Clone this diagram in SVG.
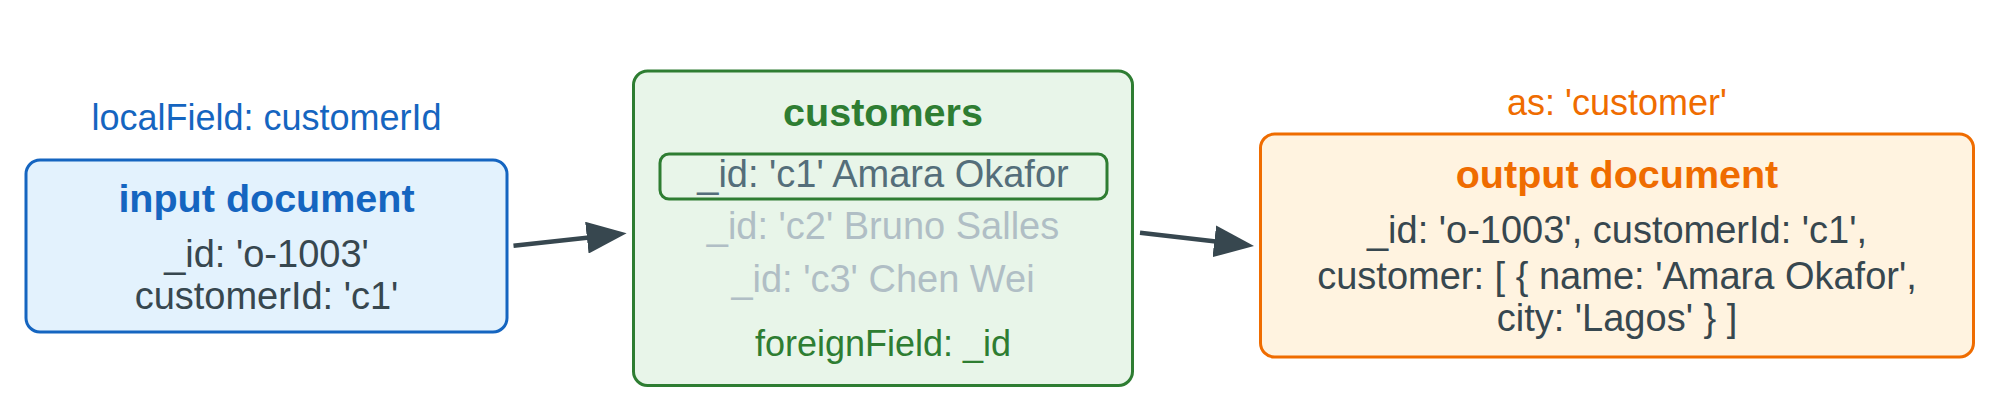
<svg xmlns="http://www.w3.org/2000/svg" width="2000" height="417" viewBox="0 0 2000 417">
<style>
text{font-family:"Liberation Sans",Arial,Helvetica,sans-serif;text-anchor:middle}
.title{font-size:39.5px;font-weight:bold}
.body{font-size:38px;fill:#37474f}
.lbl{font-size:36px}
.box{stroke-width:3}
.conn{stroke:#37474f;stroke-width:4.5;fill:none}
</style>
<defs>
<marker id="ah" markerUnits="userSpaceOnUse" markerWidth="40" markerHeight="32" refX="30" refY="16" orient="auto">
<path d="M0,0 L40,16 L0,32 Z" fill="#37474f"/>
</marker>
</defs>
<rect width="2000" height="417" fill="#ffffff"/>
<g id="input">
<text class="lbl" x="266.5" y="129.5" fill="#1565c0">localField: customerId</text>
<rect class="box" x="26" y="160" width="481" height="172" rx="14" fill="#e3f2fd" stroke="#1565c0"/>
<text class="title" x="266.5" y="211.5" fill="#1565c0">input document</text>
<text class="body" x="266.5" y="266.7">_id: 'o-1003'</text>
<text class="body" x="266.5" y="309.3">customerId: 'c1'</text>
</g>
<g id="customers">
<rect class="box" x="633.5" y="71" width="499" height="314.5" rx="14" fill="#e8f5e9" stroke="#2e7d32"/>
<text class="title" x="883" y="126" fill="#2e7d32">customers</text>
<rect x="660" y="154" width="447" height="45" rx="9" fill="none" stroke="#2e7d32" stroke-width="3"/>
<text class="body" x="883" y="186.7" style="fill:#546e7a">_id: 'c1' Amara Okafor</text>
<text class="body" x="883" y="239.3" style="fill:#b0bec5">_id: 'c2' Bruno Salles</text>
<text class="body" x="883" y="291.7" style="fill:#b0bec5">_id: 'c3' Chen Wei</text>
<text class="lbl" x="883" y="356" fill="#2e7d32">foreignField: _id</text>
</g>
<g id="output">
<text class="lbl" x="1617" y="115" fill="#ef6c00">as: 'customer'</text>
<rect class="box" x="1260.5" y="134" width="713" height="223" rx="14" fill="#fff3e0" stroke="#ef6c00"/>
<text class="title" x="1617" y="188.3" fill="#ef6c00">output document</text>
<text class="body" x="1617" y="242.5">_id: 'o-1003', customerId: 'c1',</text>
<text class="body" x="1617" y="289">customer: [ { name: 'Amara Okafor',</text>
<text class="body" x="1617" y="331.2">city: 'Lagos' } ]</text>
</g>
<g id="connectors">
<line class="conn" x1="513.5" y1="245.7" x2="616.7" y2="234.4" marker-end="url(#ah)"/>
<line class="conn" x1="1140" y1="232.7" x2="1244.1" y2="244.8" marker-end="url(#ah)"/>
</g>
</svg>
